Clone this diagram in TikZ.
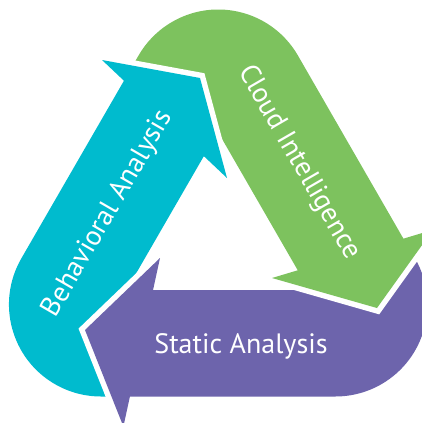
\documentclass[tikz,border=0pt]{standalone}
\usepackage{fontspec}
\newfontfamily\lblfont{PT Sans}
\definecolor{cteal}{RGB}{0,187,206}
\definecolor{cgreen}{RGB}{125,194,94}
\definecolor{cpurple}{RGB}{109,100,172}
\begin{document}
\begin{tikzpicture}[x=1pt,y=1pt,yscale=-1,
  gap/.style={draw=white, line width=11pt, line join=miter, line cap=butt},
  lbl/.style={text=white, font=\lblfont\fontsize{28}{30}\selectfont, inner sep=0pt}]
\useasboundingbox (0,0) rectangle (422,423);
\clip (0,0) rectangle (422,423);
% bodies with rounded tails
\fill[cteal] (126,77.2) -- (21.3,258.5) arc[start angle=210, end angle=90, radius=92]
  -- (121,396.5) -- (119.4,302.3) -- (205.9,152.6) -- cycle;
\fill[cgreen] (297.9,55.5) arc[start angle=-30, end angle=-150, radius=92]
  -- (128.5,72.8) -- (201.6,103.5) -- (299.8,273.8) -- (405.4,242.1) -- cycle;
\fill[cpurple] (149.1,290) -- (330,290) -- (405,255) -- (415.1,258.5)
  arc[start angle=-30, end angle=90, radius=92] -- (126.1,396.5) -- cycle;
% heads
\draw[gap] (160,258) -- (85,330) -- (123.4,426.5);
\fill[cpurple] (160,258) -- (85,330) -- (123.4,426.5) -- cycle;
\draw[gap] (102,60) -- (200,78) -- (227,178);
\fill[cteal] (102,60) -- (200,78) -- (227,178) -- cycle;
\draw[gap] (272,278) -- (377,308) -- (433,229.8);
\fill[cgreen] (272,278) -- (377,308) -- (433,229.8) -- cycle;
% labels
\node[lbl, anchor=base] (static) at (241,353) {Static Analysis};
\node[lbl, rotate=60] (behav) at (108,214) {Behavioral Analysis};
\node[lbl, rotate=-60] (cloud) at (299,163) {Cloud Intelligence};
\end{tikzpicture}
\end{document}
